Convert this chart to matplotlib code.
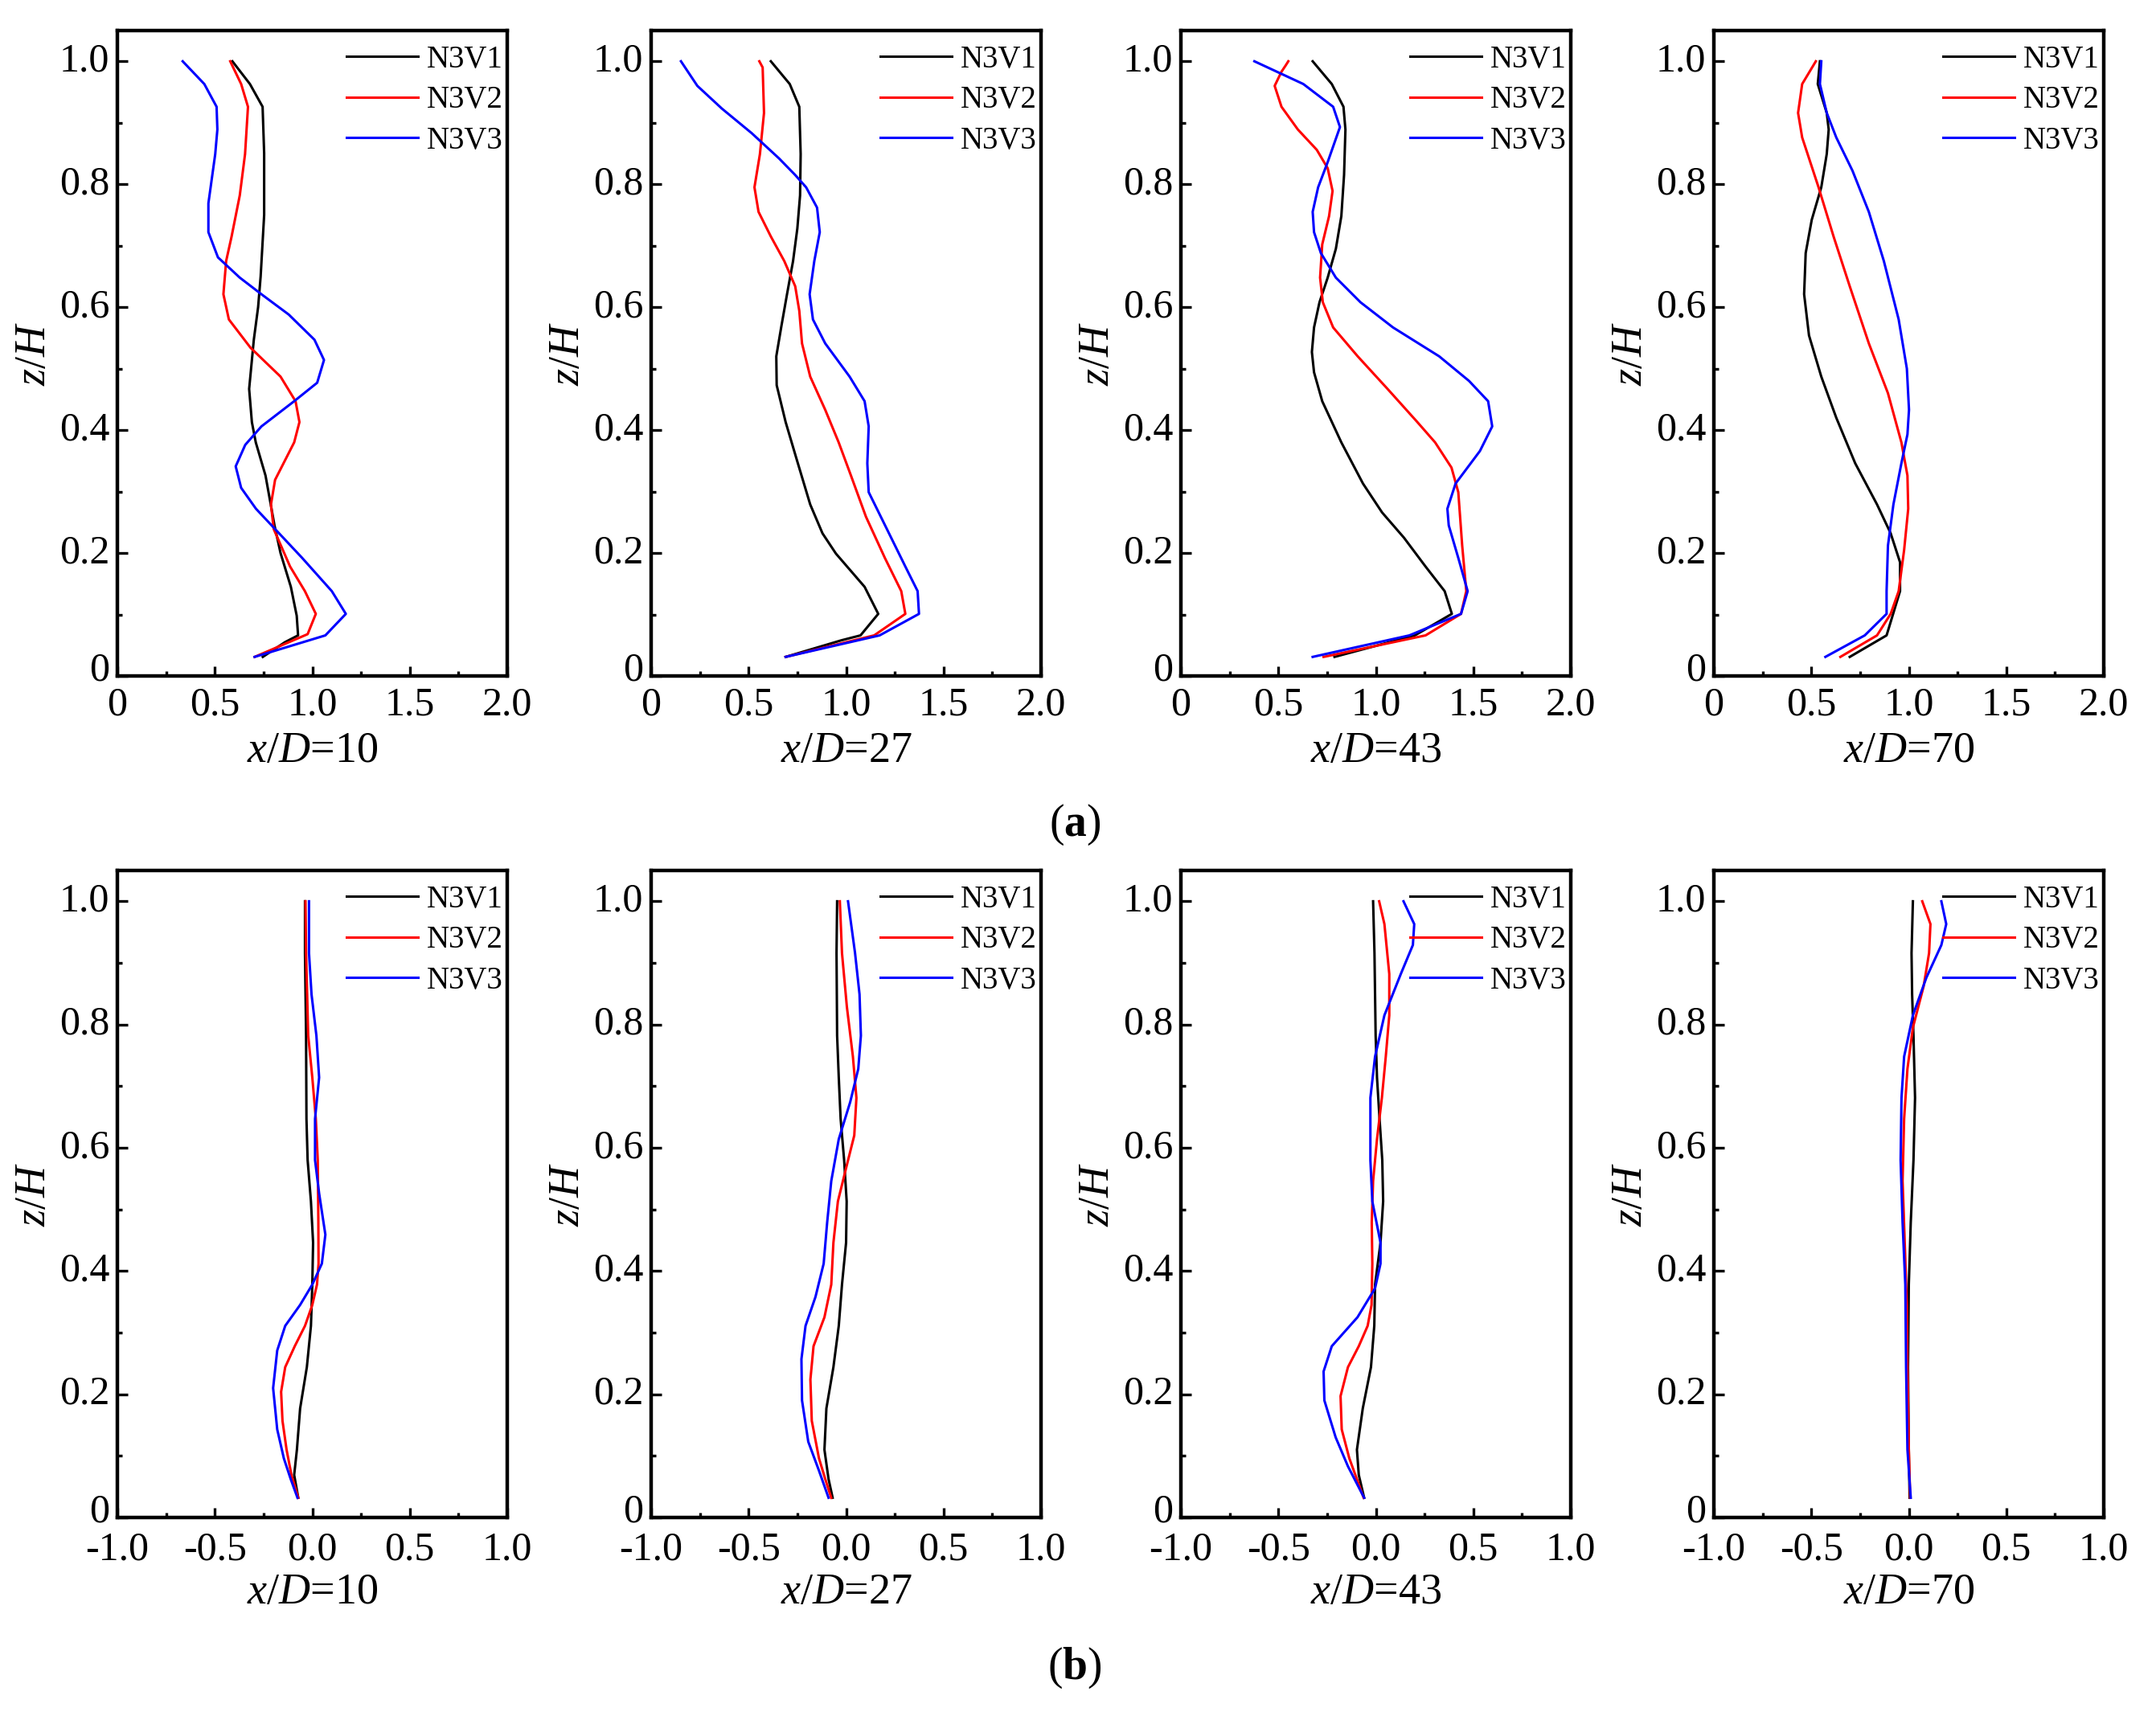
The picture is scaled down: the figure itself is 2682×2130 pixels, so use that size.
import numpy as np
import matplotlib
matplotlib.use("Agg")
import matplotlib.pyplot as plt
import matplotlib.transforms as mtrans
from matplotlib.ticker import MultipleLocator, FixedLocator

plt.rcParams['font.family'] = ['Liberation Serif', 'DejaVu Serif']
plt.rcParams['mathtext.fontset'] = 'custom'
plt.rcParams['mathtext.rm'] = 'Liberation Serif'
plt.rcParams['mathtext.it'] = 'Liberation Serif:italic'
plt.rcParams['mathtext.bf'] = 'Liberation Serif:bold'

# ---- data: (a) streamwise, x/D = 10, 27, 43, 70 ----
series_names = ['N3V1', 'N3V2', 'N3V3']
series_colors = ['#000000', '#ff0000', '#0000ff']
stations = ['10', '27', '43', '70']

# x/D = 10
za10_1 = [1.0, 0.963, 0.926, 0.85, 0.75, 0.65, 0.60, 0.547, 0.467, 0.413, 0.38, 0.326, 0.245, 0.20, 0.145, 0.098, 0.066, 0.055, 0.031]
xa10_1 = [0.59, 0.68, 0.745, 0.753, 0.753, 0.735, 0.722, 0.70, 0.676, 0.69, 0.71, 0.76, 0.806, 0.837, 0.89, 0.92, 0.927, 0.86, 0.746]
za10_2 = [1.0, 0.963, 0.926, 0.849, 0.782, 0.715, 0.675, 0.621, 0.58, 0.534, 0.487, 0.447, 0.413, 0.38, 0.319, 0.279, 0.239, 0.178, 0.138, 0.101, 0.068, 0.031]
xa10_2 = [0.579, 0.635, 0.67, 0.655, 0.628, 0.586, 0.558, 0.544, 0.572, 0.683, 0.837, 0.914, 0.934, 0.907, 0.809, 0.788, 0.802, 0.886, 0.962, 1.018, 0.976, 0.704]
za10_3 = [1.0, 0.963, 0.926, 0.889, 0.849, 0.769, 0.722, 0.681, 0.648, 0.621, 0.588, 0.547, 0.514, 0.477, 0.447, 0.406, 0.376, 0.341, 0.306, 0.272, 0.239, 0.192, 0.138, 0.101, 0.066, 0.031]
xa10_3 = [0.335, 0.446, 0.509, 0.513, 0.502, 0.467, 0.467, 0.516, 0.628, 0.739, 0.879, 1.011, 1.06, 1.025, 0.907, 0.739, 0.656, 0.607, 0.635, 0.711, 0.809, 0.948, 1.10, 1.172, 1.067, 0.704]

# x/D = 27
za27_1 = [1.0, 0.963, 0.926, 0.849, 0.782, 0.728, 0.675, 0.621, 0.567, 0.52, 0.473, 0.413, 0.353, 0.279, 0.232, 0.199, 0.145, 0.101, 0.066, 0.058, 0.031]
xa27_1 = [0.614, 0.711, 0.76, 0.767, 0.764, 0.75, 0.728, 0.697, 0.667, 0.642, 0.644, 0.69, 0.746, 0.816, 0.879, 0.948, 1.095, 1.165, 1.074, 0.976, 0.69]
za27_2 = [1.0, 0.99, 0.916, 0.849, 0.795, 0.755, 0.715, 0.675, 0.634, 0.594, 0.541, 0.487, 0.433, 0.38, 0.326, 0.259, 0.192, 0.138, 0.101, 0.066, 0.031]
xa27_2 = [0.555, 0.572, 0.579, 0.558, 0.53, 0.551, 0.614, 0.683, 0.739, 0.76, 0.774, 0.816, 0.893, 0.962, 1.025, 1.102, 1.199, 1.283, 1.304, 1.144, 0.69]
za27_3 = [1.0, 0.96, 0.923, 0.883, 0.842, 0.815, 0.795, 0.762, 0.722, 0.675, 0.621, 0.58, 0.541, 0.487, 0.447, 0.406, 0.346, 0.299, 0.245, 0.178, 0.138, 0.101, 0.066, 0.031]
xa27_3 = [0.153, 0.237, 0.363, 0.516, 0.656, 0.739, 0.795, 0.851, 0.865, 0.837, 0.813, 0.83, 0.893, 1.018, 1.095, 1.116, 1.109, 1.116, 1.2, 1.304, 1.367, 1.374, 1.172, 0.69]

# x/D = 43
za43_1 = [1.0, 0.963, 0.926, 0.889, 0.815, 0.748, 0.695, 0.648, 0.608, 0.567, 0.527, 0.494, 0.447, 0.38, 0.313, 0.266, 0.225, 0.178, 0.138, 0.101, 0.066, 0.031]
xa43_1 = [0.676, 0.774, 0.834, 0.844, 0.837, 0.823, 0.795, 0.753, 0.711, 0.683, 0.672, 0.683, 0.725, 0.823, 0.934, 1.032, 1.144, 1.255, 1.353, 1.39, 1.2, 0.788]
za43_2 = [1.0, 0.993, 0.983, 0.96, 0.926, 0.889, 0.856, 0.826, 0.789, 0.748, 0.702, 0.648, 0.608, 0.567, 0.52, 0.467, 0.413, 0.38, 0.339, 0.299, 0.212, 0.138, 0.101, 0.066, 0.031]
xa43_2 = [0.551, 0.537, 0.516, 0.481, 0.516, 0.6, 0.697, 0.753, 0.778, 0.76, 0.725, 0.714, 0.728, 0.781, 0.907, 1.06, 1.213, 1.304, 1.388, 1.423, 1.443, 1.464, 1.437, 1.255, 0.732]
za43_3 = [1.0, 0.963, 0.926, 0.893, 0.836, 0.795, 0.755, 0.722, 0.688, 0.648, 0.608, 0.567, 0.52, 0.48, 0.447, 0.406, 0.366, 0.313, 0.272, 0.245, 0.192, 0.138, 0.101, 0.066, 0.031]
xa43_3 = [0.377, 0.628, 0.781, 0.816, 0.753, 0.704, 0.676, 0.683, 0.718, 0.795, 0.921, 1.088, 1.325, 1.478, 1.576, 1.597, 1.534, 1.409, 1.367, 1.374, 1.423, 1.471, 1.437, 1.172, 0.676]

# x/D = 70
za70_1 = [1.0, 0.963, 0.916, 0.889, 0.849, 0.795, 0.742, 0.688, 0.621, 0.554, 0.487, 0.42, 0.346, 0.279, 0.232, 0.185, 0.138, 0.066, 0.031]
xa70_1 = [0.544, 0.533, 0.579, 0.589, 0.579, 0.551, 0.502, 0.471, 0.463, 0.488, 0.551, 0.628, 0.725, 0.837, 0.907, 0.955, 0.955, 0.886, 0.697]
za70_2 = [1.0, 0.963, 0.916, 0.876, 0.795, 0.715, 0.634, 0.541, 0.46, 0.38, 0.326, 0.272, 0.205, 0.138, 0.101, 0.066, 0.031]
xa70_2 = [0.523, 0.453, 0.432, 0.453, 0.537, 0.614, 0.697, 0.795, 0.893, 0.962, 0.993, 0.997, 0.976, 0.948, 0.907, 0.837, 0.649]
za70_3 = [1.0, 0.963, 0.916, 0.876, 0.822, 0.755, 0.675, 0.58, 0.5, 0.433, 0.393, 0.346, 0.279, 0.212, 0.138, 0.101, 0.066, 0.031]
xa70_3 = [0.551, 0.544, 0.579, 0.628, 0.711, 0.795, 0.872, 0.948, 0.99, 1.001, 0.993, 0.962, 0.921, 0.893, 0.886, 0.886, 0.774, 0.572]

# ---- (b) lateral component ----
zb10_1 = [1.0, 0.916, 0.782, 0.647, 0.58, 0.513, 0.446, 0.378, 0.311, 0.244, 0.177, 0.11, 0.069, 0.032]
xb10_1 = [-0.0375, -0.0375, -0.032, -0.03, -0.024, -0.007, 0.004, 0.0, -0.007, -0.028, -0.0625, -0.079, -0.093, -0.072]
zb10_2 = [1.0, 0.916, 0.782, 0.714, 0.647, 0.58, 0.479, 0.412, 0.378, 0.345, 0.311, 0.278, 0.244, 0.204, 0.157, 0.11, 0.069, 0.032]
xb10_2 = [-0.035, -0.032, -0.021, 0.0, 0.018, 0.028, 0.031, 0.032, 0.024, 0.0, -0.0375, -0.09, -0.139, -0.16, -0.153, -0.132, -0.107, -0.072]
zb10_3 = [1.0, 0.916, 0.849, 0.782, 0.714, 0.647, 0.58, 0.526, 0.459, 0.412, 0.378, 0.345, 0.311, 0.271, 0.21, 0.143, 0.096, 0.0625, 0.032]
xb10_3 = [-0.017, -0.017, -0.004, 0.021, 0.035, 0.014, 0.014, 0.035, 0.067, 0.049, 0.0, -0.0625, -0.139, -0.18, -0.201, -0.18, -0.146, -0.111, -0.076]

zb27_1 = [1.0, 0.916, 0.782, 0.714, 0.647, 0.58, 0.513, 0.446, 0.378, 0.311, 0.244, 0.177, 0.11, 0.0625, 0.032]
xb27_1 = [-0.046, -0.049, -0.046, -0.0375, -0.028, -0.01, 0.003, 0.0, -0.021, -0.0375, -0.065, -0.101, -0.111, -0.09, -0.069]
zb27_2 = [1.0, 0.916, 0.829, 0.748, 0.681, 0.62, 0.567, 0.513, 0.446, 0.378, 0.325, 0.278, 0.224, 0.157, 0.096, 0.0625, 0.032]
xb27_2 = [-0.032, -0.021, 0.004, 0.035, 0.053, 0.042, 0.0, -0.042, -0.065, -0.076, -0.111, -0.167, -0.183, -0.176, -0.139, -0.107, -0.076]
zb27_3 = [1.0, 0.916, 0.849, 0.782, 0.728, 0.674, 0.614, 0.546, 0.479, 0.412, 0.358, 0.311, 0.257, 0.19, 0.123, 0.076, 0.032]
xb27_3 = [0.01, 0.046, 0.069, 0.076, 0.0625, 0.021, -0.0375, -0.076, -0.097, -0.115, -0.157, -0.208, -0.229, -0.226, -0.194, -0.139, -0.09]

zb43_1 = [1.0, 0.916, 0.782, 0.714, 0.647, 0.58, 0.513, 0.446, 0.378, 0.311, 0.244, 0.177, 0.11, 0.069, 0.032]
xb43_1 = [-0.014, -0.007, -0.001, 0.006, 0.019, 0.033, 0.0375, 0.024, -0.004, -0.008, -0.025, -0.067, -0.097, -0.0875, -0.06]
zb43_2 = [1.0, 0.963, 0.882, 0.815, 0.748, 0.681, 0.614, 0.546, 0.479, 0.412, 0.345, 0.311, 0.278, 0.244, 0.197, 0.143, 0.096, 0.032]
xb43_2 = [0.017, 0.044, 0.069, 0.069, 0.051, 0.031, 0.006, -0.014, -0.021, -0.018, -0.022, -0.042, -0.0875, -0.143, -0.181, -0.175, -0.136, -0.0625]
zb43_3 = [1.0, 0.963, 0.929, 0.882, 0.815, 0.748, 0.681, 0.58, 0.513, 0.446, 0.412, 0.372, 0.325, 0.278, 0.237, 0.19, 0.13, 0.083, 0.032]
xb43_3 = [0.142, 0.197, 0.19, 0.128, 0.044, -0.004, -0.028, -0.028, -0.018, 0.024, 0.024, -0.004, -0.094, -0.226, -0.268, -0.264, -0.206, -0.143, -0.06]

zb70_1 = [1.0, 0.916, 0.849, 0.782, 0.681, 0.58, 0.479, 0.378, 0.244, 0.11, 0.032]
xb70_1 = [0.021, 0.014, 0.017, 0.024, 0.032, 0.024, 0.01, 0.0, -0.004, 0.0, 0.004]
zb70_2 = [1.0, 0.963, 0.916, 0.862, 0.795, 0.728, 0.647, 0.546, 0.446, 0.345, 0.244, 0.11, 0.032]
xb70_2 = [0.069, 0.111, 0.104, 0.076, 0.021, -0.007, -0.024, -0.032, -0.021, -0.01, -0.007, 0.0, 0.007]
zb70_3 = [1.0, 0.963, 0.929, 0.876, 0.815, 0.748, 0.681, 0.58, 0.479, 0.378, 0.244, 0.11, 0.032]
xb70_3 = [0.167, 0.192, 0.167, 0.09, 0.021, -0.024, -0.0375, -0.042, -0.032, -0.018, -0.014, -0.007, 0.01]

# tick labels
xticks_a = [0, 0.5, 1.0, 1.5, 2.0]
xticklabels_a = ['0', '0.5', '1.0', '1.5', '2.0']
xticks_b = [-1.0, -0.5, 0.0, 0.5, 1.0]
xticklabels_b = ['-1.0', '-0.5', '0.0', '0.5', '1.0']
yticks = [0, 0.2, 0.4, 0.6, 0.8, 1.0]
yticklabels = ['0', '0.2', '0.4', '0.6', '0.8', '1.0']

panels_a = [
    [(za10_1, xa10_1), (za10_2, xa10_2), (za10_3, xa10_3)],
    [(za27_1, xa27_1), (za27_2, xa27_2), (za27_3, xa27_3)],
    [(za43_1, xa43_1), (za43_2, xa43_2), (za43_3, xa43_3)],
    [(za70_1, xa70_1), (za70_2, xa70_2), (za70_3, xa70_3)],
]
panels_b = [
    [(zb10_1, xb10_1), (zb10_2, xb10_2), (zb10_3, xb10_3)],
    [(zb27_1, xb27_1), (zb27_2, xb27_2), (zb27_3, xb27_3)],
    [(zb43_1, xb43_1), (zb43_2, xb43_2), (zb43_3, xb43_3)],
    [(zb70_1, xb70_1), (zb70_2, xb70_2), (zb70_3, xb70_3)],
]

W, H = 2682, 2130
fig = plt.figure(figsize=(W / 100, H / 100), dpi=100)

# axes boxes in pixels (left edges, width, top/bottom of each row)
col_left = [146, 810, 1469, 2132]
ax_w = 485
rows = [(38, 841), (1083, 1888)]


def style_axes(ax, xlim, xticks, xlabels, xminor, xpad):
    ax.set_xlim(*xlim)
    ax.set_ylim(0, 1.05)
    ax.xaxis.set_major_locator(FixedLocator(xticks))
    ax.set_xticklabels(xlabels)
    ax.xaxis.set_minor_locator(MultipleLocator(xminor))
    ax.yaxis.set_major_locator(FixedLocator(yticks))
    ax.set_yticklabels(yticklabels, va='center')
    ax.yaxis.set_minor_locator(MultipleLocator(0.1))
    ax.tick_params(which='both', direction='in', top=False, right=False,
                   labelsize=36, width=2.4)
    ax.tick_params(which='major', length=9)
    ax.tick_params(axis='x', which='major', pad=xpad)
    ax.tick_params(axis='y', which='major', pad=7)
    ax.tick_params(which='minor', length=4.5)
    for s in ax.spines.values():
        s.set_linewidth(3.2)
    # lift the corner "0" a little so it sits clear of the x tick labels
    lift = mtrans.ScaledTranslation(0, 5 / 72, fig.dpi_scale_trans)
    lab0 = ax.get_yticklabels()[0]
    lab0.set_transform(lab0.get_transform() + lift)


# panels, x range, ticks, labels, tick pad, xlabel pad
row_setup = [
    (panels_a, (0, 2.0), xticks_a, xticklabels_a, 9, 7),
    (panels_b, (-1.0, 1.0), xticks_b, xticklabels_b, 12, 4),
]

for r, (panels, xlim, xt, xl, xpad, lpad) in enumerate(row_setup):
    top, bot = rows[r]
    for c, panel in enumerate(panels):
        ax = fig.add_axes([col_left[c] / W, 1 - bot / H, ax_w / W, (bot - top) / H])
        for (z, x), name, col in zip(panel, series_names, series_colors):
            ax.plot(x, z, color=col, lw=2.2, label=name)
        style_axes(ax, xlim, xt, xl, 0.25, xpad)
        ax.set_xlabel(r'$x$/$D$=' + stations[c], fontsize=39, labelpad=lpad)
        ax.set_ylabel(r'$z$/$H$', fontsize=39, labelpad=4)
        ax.legend(loc='upper right', bbox_to_anchor=(0.99, 0.978), frameon=False,
                  fontsize=28, handlelength=2.27, handletextpad=0.3,
                  labelspacing=0.35, borderpad=0.0, borderaxespad=0.0)

fig.text(1337 / W, 1 - 1026 / H, r'($\mathbf{a}$)', fontsize=40, ha='center', va='center')
fig.text(1337 / W, 1 - 2075 / H, r'($\mathbf{b}$)', fontsize=40, ha='center', va='center')

fig.savefig('out.png', dpi=100)
